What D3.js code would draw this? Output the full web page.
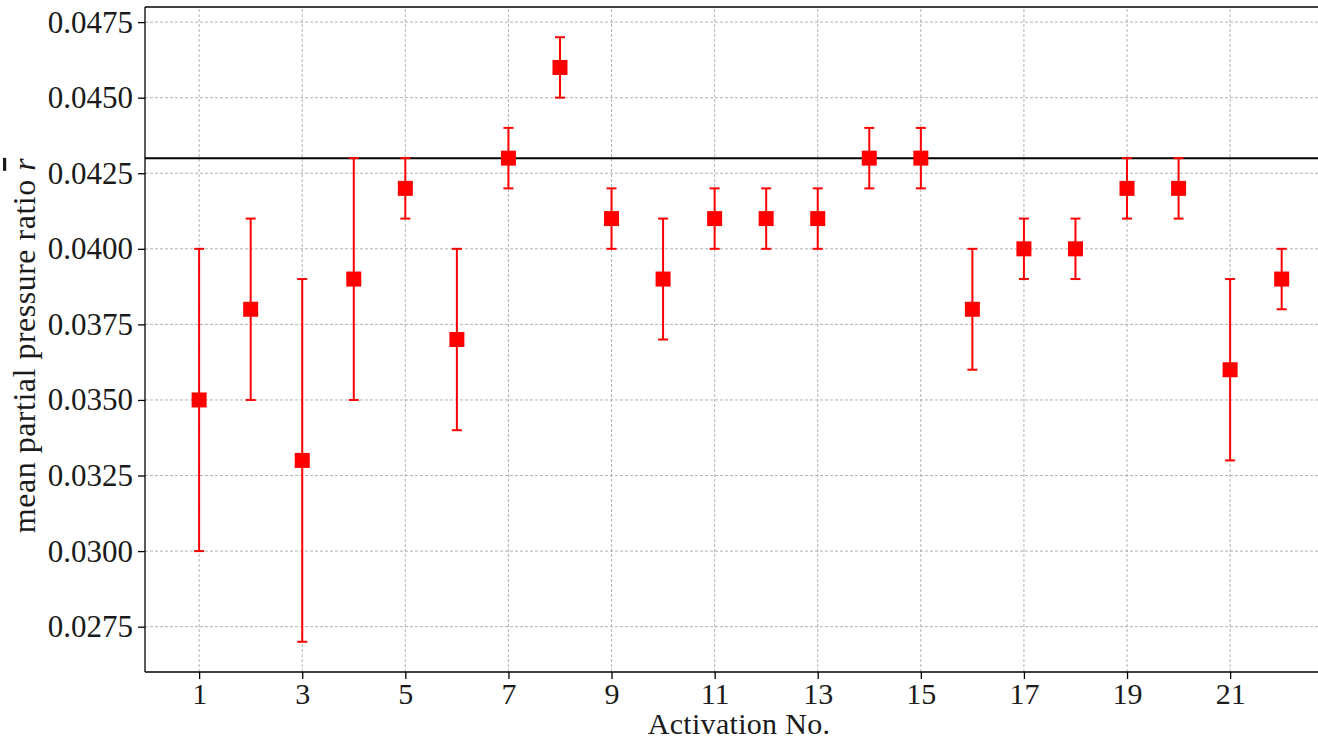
<!DOCTYPE html>
<html>
<head>
<meta charset="utf-8">
<script src="https://cdn.jsdelivr.net/npm/d3@7"></script>
<style>
  html, body { margin: 0; padding: 0; background: #fff; }
  svg { display: block; }
  text { font-family: "Liberation Serif", "DejaVu Serif", serif; fill: #1a1a1a; }
</style>
</head>
<body>
<svg id="chart" width="1318" height="739"></svg>
<script>
// activation number, mean ratio, error bar bounds
const activations = d3.range(1, 23)
const meanRatio = [0.035, 0.038, 0.033, 0.039, 0.042, 0.037, 0.043, 0.046, 0.041, 0.039, 0.041,
  0.041, 0.041, 0.043, 0.043, 0.038, 0.040, 0.040, 0.042, 0.042, 0.036, 0.039]
const lowerBound = [0.030, 0.035, 0.027, 0.035, 0.041, 0.034, 0.042, 0.045, 0.040, 0.037, 0.040,
  0.040, 0.040, 0.042, 0.042, 0.036, 0.039, 0.039, 0.041, 0.041, 0.033, 0.038]
const upperBound = [0.040, 0.041, 0.039, 0.043, 0.043, 0.040, 0.044, 0.047, 0.042, 0.041, 0.042,
  0.042, 0.042, 0.044, 0.044, 0.040, 0.041, 0.041, 0.043, 0.043, 0.039, 0.040]
const referenceRatio = 0.043
const xTicks = [1, 3, 5, 7, 9, 11, 13, 15, 17, 19, 21]
const yTicks = [0.0275, 0.0300, 0.0325, 0.0350, 0.0375, 0.0400, 0.0425, 0.0450, 0.0475]

const margin = { left: 145, top: 7, bottom: 67 }
const height = 739
const svg = d3.select('#chart')

const x = d3.scaleLinear().domain([-0.05, 23.05]).range([margin.left, margin.left + 23.1 * 51.55])
const y = d3.scaleLinear().domain([0.026, 0.048]).range([height - margin.bottom, margin.top])

const points = activations.map((n, i) => ({ n, v: meanRatio[i], lo: lowerBound[i], hi: upperBound[i] }))

// grid
const grid = svg.append('g').attr('stroke', '#a0a0a0').attr('stroke-width', 0.8).attr('stroke-dasharray', '3,2')
grid.selectAll('.gy').data(yTicks).join('line')
  .attr('x1', x.range()[0]).attr('x2', x.range()[1])
  .attr('y1', d => y(d)).attr('y2', d => y(d))
grid.selectAll('.gx').data(xTicks).join('line')
  .attr('x1', d => x(d)).attr('x2', d => x(d))
  .attr('y1', y.range()[0]).attr('y2', y.range()[1])

// reference line
svg.append('line')
  .attr('x1', x.range()[0]).attr('x2', x.range()[1])
  .attr('y1', y(referenceRatio)).attr('y2', y(referenceRatio))
  .attr('stroke', '#000').attr('stroke-width', 2)

// error bars
const bars = svg.append('g').attr('stroke', '#ff0000').attr('stroke-width', 2)
bars.selectAll('.v').data(points).join('line')
  .attr('x1', d => x(d.n)).attr('x2', d => x(d.n))
  .attr('y1', d => y(d.lo)).attr('y2', d => y(d.hi))
bars.selectAll('.cl').data(points).join('line')
  .attr('x1', d => x(d.n) - 5).attr('x2', d => x(d.n) + 5)
  .attr('y1', d => y(d.lo)).attr('y2', d => y(d.lo))
bars.selectAll('.ch').data(points).join('line')
  .attr('x1', d => x(d.n) - 5).attr('x2', d => x(d.n) + 5)
  .attr('y1', d => y(d.hi)).attr('y2', d => y(d.hi))

// markers
const ms = 15
svg.append('g').selectAll('rect').data(points).join('rect')
  .attr('x', d => x(d.n) - ms / 2).attr('y', d => y(d.v) - ms / 2)
  .attr('width', ms).attr('height', ms)
  .attr('fill', '#ff0000')

// axes
const xAxis = svg.append('g')
  .attr('transform', `translate(0,${y.range()[0]})`)
  .call(d3.axisBottom(x).tickValues(xTicks).tickSize(7).tickPadding(4))
const yAxis = svg.append('g')
  .attr('transform', `translate(${margin.left},0)`)
  .call(d3.axisLeft(y).tickValues(yTicks).tickFormat(d3.format('.4f')).tickSize(7).tickPadding(5))

for (const ax of [xAxis, yAxis]) {
  ax.select('.domain').attr('stroke', '#000').attr('stroke-width', 1.3)
  ax.selectAll('.tick line').attr('stroke', '#000').attr('stroke-width', 1.3)
  ax.selectAll('.tick text').attr('font-size', 31).attr('fill', '#1a1a1a')
    .style('font-family', '"Liberation Serif", "DejaVu Serif", serif')
}
xAxis.selectAll('.tick text').attr('font-size', 30)
xAxis.select('.domain').attr('d', `M${x.range()[0]},0H${x.range()[1]}`)
yAxis.select('.domain').attr('d', `M0,${y.range()[0]}V${y.range()[1]}`)

// top spine
svg.append('line')
  .attr('x1', x.range()[0]).attr('x2', x.range()[1])
  .attr('y1', y.range()[1]).attr('y2', y.range()[1])
  .attr('stroke', '#000').attr('stroke-width', 1.3)

// labels
svg.append('text')
  .attr('x', 739).attr('y', 734)
  .attr('text-anchor', 'middle').attr('font-size', 30)
  .attr('letter-spacing', 0.3)
  .text('Activation No.')

const yl = svg.append('text')
  .attr('transform', `translate(35,${(y.range()[0] + y.range()[1]) / 2 + 6}) rotate(-90)`)
  .attr('text-anchor', 'middle').attr('font-size', 32)
  .attr('letter-spacing', 0.5)
yl.append('tspan').text('mean partial pressure ratio ')
yl.append('tspan').attr('font-style', 'italic').style('text-decoration', 'overline').text('r')
</script>
</body>
</html>
